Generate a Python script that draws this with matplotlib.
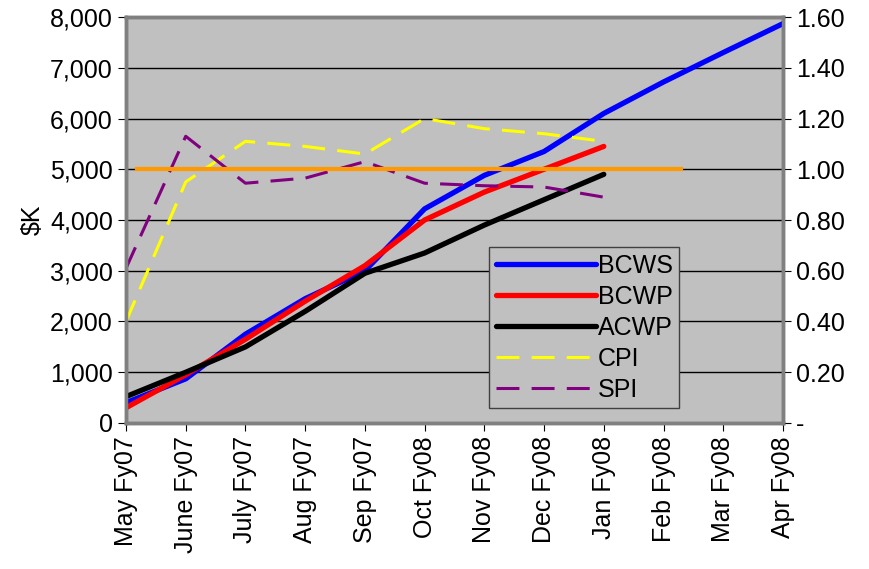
import matplotlib.pyplot as plt
from matplotlib.ticker import FuncFormatter

months = ['May Fy07', 'June Fy07', 'July Fy07', 'Aug Fy07', 'Sep Fy07', 'Oct Fy08',
          'Nov Fy08', 'Dec Fy08', 'Jan Fy08', 'Feb Fy08', 'Mar Fy08', 'Apr Fy08']
bcws = [400, 870, 1750, 2450, 3000, 4220, 4880, 5350, 6100, 6720, 7300, 7870]
bcwp = [300, 950, 1650, 2400, 3100, 4000, 4550, 5000, 5450]
acwp = [520, 1000, 1500, 2200, 2950, 3350, 3900, 4400, 4900]
cpi = [0.40, 0.95, 1.11, 1.09, 1.06, 1.20, 1.16, 1.14, 1.11]
spi = [0.61, 1.13, 0.945, 0.965, 1.03, 0.945, 0.935, 0.93, 0.89]
target_x = [0.18, 9.3]
target_y = [1.0, 1.0]

plt.rcParams['font.family'] = ['Liberation Sans', 'DejaVu Sans']
fs = 18

fig = plt.figure(figsize=(8.69, 5.69), dpi=100)
ax = fig.add_axes([0.145, 0.2566, 0.756, 0.7135])
ax2 = ax.twinx()

x_all = list(range(len(months)))
ax.set_facecolor('#C0C0C0')
ax.yaxis.grid(True, color='black', linewidth=1)
ax.set_axisbelow(True)

l1, = ax.plot(x_all[:len(bcws)], bcws, color='#0000FF', lw=3.8, label='BCWS', zorder=4,
              solid_capstyle='round')
l2, = ax.plot(x_all[:len(bcwp)], bcwp, color='#FF0000', lw=3.8, label='BCWP', zorder=4,
              solid_capstyle='round')
l3, = ax.plot(x_all[:len(acwp)], acwp, color='black', lw=3.8, label='ACWP', zorder=4,
              solid_capstyle='round')
l4, = ax2.plot(x_all[:len(cpi)], cpi, color='#FFFF00', lw=2.2, ls=(0, (7.5, 4)), label='CPI')
l5, = ax2.plot(x_all[:len(spi)], spi, color='#800080', lw=2.2, ls=(0, (7.5, 4)), label='SPI')
ax2.plot(target_x, target_y, color='#FF9900', lw=3)

ax.set_xlim(0, len(months) - 1)
ax.set_ylim(0, 8000)
ax.set_yticks(range(0, 8001, 1000))
ax.yaxis.set_major_formatter(FuncFormatter(lambda v, p: f'{int(v):,}'))
ax2.set_ylim(0, 1.6)
ax2.set_yticks([i * 0.2 for i in range(9)])
ax2.yaxis.set_major_formatter(FuncFormatter(lambda v, p: '-' if abs(v) < 1e-9 else f'{v:.2f}'))

ax.set_xticks(x_all)
ax.set_xticklabels(months, rotation=90, fontsize=fs)
ax.tick_params(axis='y', labelsize=fs, length=6, direction='out')
ax.tick_params(axis='x', length=6, direction='out')
ax2.tick_params(axis='y', labelsize=fs, length=6, direction='out')
ax.set_ylabel('$K', fontsize=fs, labelpad=4)

for a in (ax, ax2):
    for s in a.spines.values():
        s.set_color('#808080')
        s.set_linewidth(2.5)

leg = ax.legend(handles=[l1, l2, l3, l4, l5], loc='lower left',
                bbox_to_anchor=(0.553, 0.037), fontsize=fs, frameon=True,
                fancybox=False, handlelength=4.0, handletextpad=0.1,
                labelspacing=0.28, borderpad=0.25, borderaxespad=0)
leg.get_frame().set_facecolor('#C0C0C0')
leg.get_frame().set_edgecolor('#404040')
leg.get_frame().set_alpha(1)
leg.set_zorder(10)

fig.savefig('out.png', dpi=100)
